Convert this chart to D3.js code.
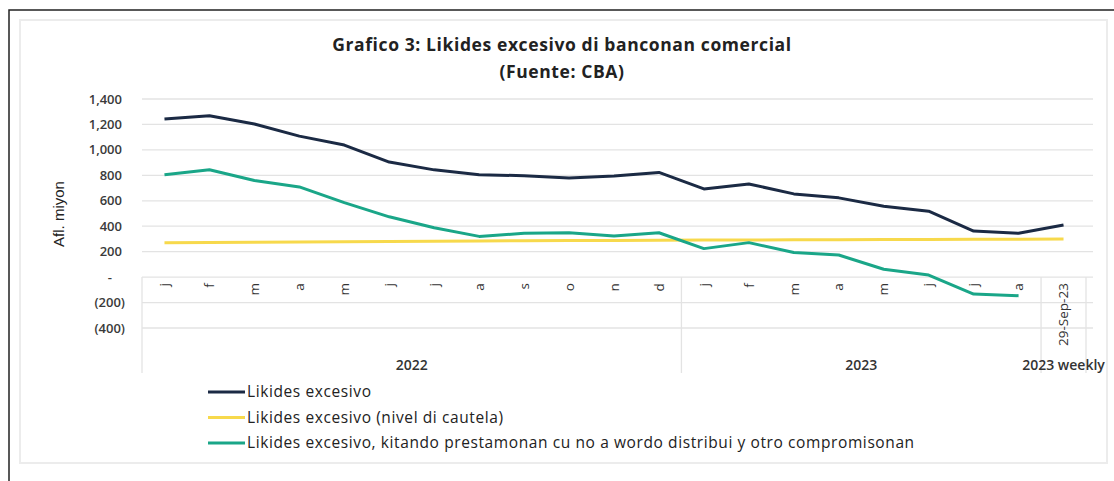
<!DOCTYPE html>
<html>
<head>
<meta charset="utf-8">
<script src="https://cdn.jsdelivr.net/npm/d3@7"></script>
<style>
  body { margin: 0; background: #fff; }
  svg { display: block; font-family: "Open Sans", sans-serif; }
</style>
</head>
<body>
<div id="chart"></div>
<script>
// categories: months of 2022, months of 2023, then one weekly point
const months2022 = ["j", "f", "m", "a", "m", "j", "j", "a", "s", "o", "n", "d"];
const months2023 = ["j", "f", "m", "a", "m", "j", "j", "a"];
const weeklyLabels = ["29-Sep-23"];
const groups = [
    { name: "2022", count: 12 },
    { name: "2023", count: 8 },
    { name: "2023 weekly", count: 1 }
];

// series, Afl. miyon
const excess = [1242, 1268, 1203, 1108, 1038, 904, 843, 805, 797, 779, 795, 823,
                693, 732, 654, 623, 557, 518, 362, 344,
                409];
const caution = [270, 272, 274, 276, 278, 280, 282, 284, 286, 287, 288, 289,
                 291, 292, 293, 294, 295, 296, 297, 298,
                 299];
const excessNet = [805, 844, 760, 709, 585, 474, 388, 320, 344, 349, 323, 349,
                   224, 271, 193, 174, 62, 16, -133, -146,
                   null];

const yTicks = [-400, -200, 0, 200, 400, 600, 800, 1000, 1200, 1400];

const seriesNames = [
    "Likides excesivo",
    "Likides excesivo (nivel di cautela)",
    "Likides excesivo, kitando prestamonan cu no a wordo distribui y otro compromisonan"
];
const colors = ["#1b2a44", "#f7d94c", "#1aa688"];

const labels = months2022.concat(months2023, weeklyLabels);
const keys = labels.map((d, i) => i);

const width = 1114, height = 481;
const svg = d3.select("#chart").append("svg")
    .attr("width", width)
    .attr("height", height);

// frame
svg.append("rect")
    .attr("x", 20).attr("y", 20)
    .attr("width", 1087).attr("height", 443)
    .attr("fill", "#fff")
    .attr("stroke", "#ececec")
    .attr("stroke-width", 2);
svg.append("path")
    .attr("d", "M9,481V10H1114")
    .attr("fill", "none")
    .attr("stroke", "#222")
    .attr("stroke-width", 1.5);

// scales
const x = d3.scaleBand().domain(keys).range([142, 1086]);
const y = d3.scaleLinear().domain([-400, 1400]).range([328, 99]);
const cx = i => x(i) + x.bandwidth() / 2;

// gridlines
svg.append("g")
    .selectAll("line")
    .data(yTicks)
    .join("line")
    .attr("x1", 142).attr("x2", 1093)
    .attr("y1", d => y(d)).attr("y2", d => y(d))
    .attr("stroke", "#e3e3e3")
    .attr("stroke-width", 1.3);

// y tick labels (accounting style)
const fmt = d3.format(",");
svg.append("g")
    .selectAll("text")
    .data(yTicks)
    .join("text")
    .attr("x", d => d < 0 ? 125 : d === 0 ? 112 : 122)
    .attr("y", d => y(d))
    .attr("dy", "0.35em")
    .attr("text-anchor", "end")
    .attr("font-size", 13)
    .attr("font-weight", 600)
    .attr("fill", "#3a3a3a")
    .text(d => d === 0 ? "-" : d < 0 ? "(" + fmt(-d) + ")" : fmt(d));

// y axis title
svg.append("text")
    .attr("transform", "translate(64,214) rotate(-90)")
    .attr("text-anchor", "middle")
    .attr("font-family", "Liberation Sans, Arial, sans-serif")
    .attr("font-size", 15)
    .attr("fill", "#222")
    .text("Afl. miyon");

// multi-level category axis
const axisBottom = 373;
let start = 0;
const bounds = [0];
groups.forEach(g => { start += g.count; bounds.push(start); });
const boundX = b => b < keys.length ? x(b) : x(keys.length - 1) + x.bandwidth();

svg.append("g")
    .selectAll("line")
    .data(bounds)
    .join("line")
    .attr("x1", boundX).attr("x2", boundX)
    .attr("y1", y(0)).attr("y2", axisBottom)
    .attr("stroke", "#e3e3e3")
    .attr("stroke-width", 1.3);

svg.append("g")
    .selectAll("text")
    .data(keys)
    .join("text")
    .attr("transform", i => `translate(${cx(i)},${y(0) + 6}) rotate(-90)`)
    .attr("text-anchor", "end")
    .attr("dy", "0.35em")
    .attr("font-size", 13.5)
    .attr("fill", "#333")
    .text(i => labels[i]);

svg.append("g")
    .selectAll("text")
    .data(groups)
    .join("text")
    .attr("x", (g, i) => (boundX(bounds[i]) + boundX(bounds[i + 1])) / 2)
    .attr("y", 370)
    .attr("text-anchor", "middle")
    .attr("font-size", 14)
    .attr("font-weight", 600)
    .attr("fill", "#333")
    .text(g => g.name);

// lines
const line = d3.line()
    .defined(d => d.v !== null)
    .x(d => cx(d.i))
    .y(d => y(d.v));

[excess, caution, excessNet].forEach((s, k) => {
    svg.append("path")
        .datum(s.map((v, i) => ({ i, v })))
        .attr("d", line)
        .attr("fill", "none")
        .attr("stroke", colors[k])
        .attr("stroke-width", 3)
        .attr("stroke-linejoin", "round");
});

// title
svg.append("text")
    .attr("x", 562).attr("y", 51)
    .attr("text-anchor", "middle")
    .attr("font-size", 17.5)
    .attr("font-weight", 700)
    .attr("letter-spacing", 0.6)
    .attr("fill", "#222")
    .text("Grafico 3: Likides excesivo di banconan comercial");
svg.append("text")
    .attr("x", 562).attr("y", 78)
    .attr("text-anchor", "middle")
    .attr("font-size", 17.5)
    .attr("font-weight", 700)
    .attr("letter-spacing", 0.6)
    .attr("fill", "#222")
    .text("(Fuente: CBA)");

// legend
const legend = svg.append("g")
    .selectAll("g")
    .data(seriesNames)
    .join("g")
    .attr("transform", (d, i) => `translate(208,${392 + i * 25.5})`);
legend.append("line")
    .attr("x1", 0).attr("x2", 37)
    .attr("stroke", (d, i) => colors[i])
    .attr("stroke-width", 3);
legend.append("text")
    .attr("x", 39)
    .attr("dy", "0.35em")
    .attr("font-size", 15.5)
    .attr("letter-spacing", 0.6)
    .attr("fill", "#222")
    .text(d => d);
</script>
</body>
</html>
